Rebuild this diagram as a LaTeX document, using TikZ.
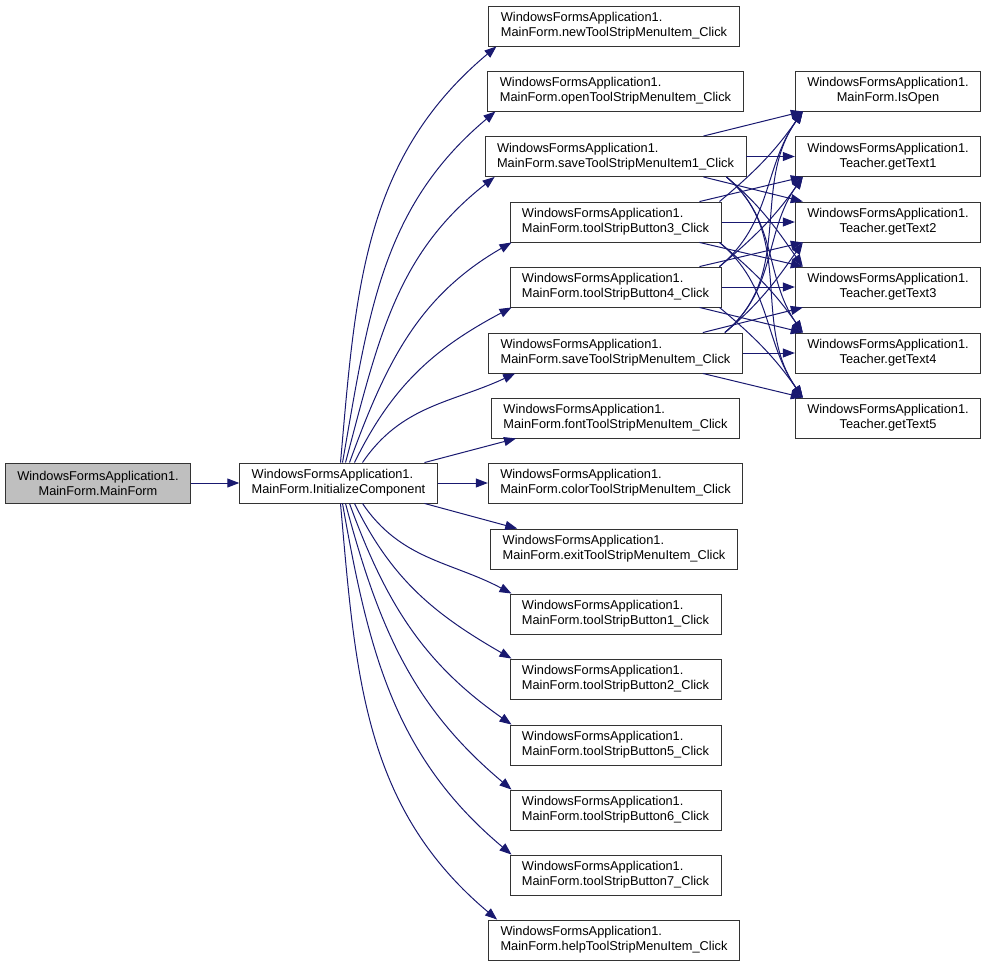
\documentclass[tikz,border=0pt]{standalone}
\usepackage{fontspec}
\setmainfont{Liberation Sans}
\usetikzlibrary{arrows.meta}
\definecolor{edgeblue}{HTML}{191970}
\definecolor{boxgray}{HTML}{BFBFBF}
\tikzset{
  fn/.style={draw=black!80, line width=0.9pt, align=left, minimum height=40pt,
    inner xsep=12pt, inner ysep=4pt, font=\fontsize{12.8}{15}\selectfont},
  fnc/.style={fn, align=center},
  call/.style={edgeblue, line width=1pt, -{Triangle[length=12pt,width=9pt]}}
}
\begin{document}
\begin{tikzpicture}[x=1pt,y=1pt]
\useasboundingbox (0,0) rectangle (987,-967);
% entry point and the method it calls
\node[fnc,fill=boxgray] (mainform) at (98,-483) {WindowsFormsApplication1.\\MainForm.MainForm};
\node[fn] (init) at (338.5,-483) {WindowsFormsApplication1.\\MainForm.InitializeComponent};
% handlers wired up in InitializeComponent
\node[fn] (new)   at (614,-26)    {WindowsFormsApplication1.\\MainForm.newToolStripMenuItem\_Click};
\node[fn] (open)  at (615.5,-91)  {WindowsFormsApplication1.\\MainForm.openToolStripMenuItem\_Click};
\node[fn] (save1) at (615.5,-156.5) {WindowsFormsApplication1.\\MainForm.saveToolStripMenuItem1\_Click};
\node[fn] (tsb3)  at (615.5,-222) {WindowsFormsApplication1.\\MainForm.toolStripButton3\_Click};
\node[fn] (tsb4)  at (615.5,-287) {WindowsFormsApplication1.\\MainForm.toolStripButton4\_Click};
\node[fn] (save)  at (615.5,-353) {WindowsFormsApplication1.\\MainForm.saveToolStripMenuItem\_Click};
\node[fn] (font)  at (615.5,-418) {WindowsFormsApplication1.\\MainForm.fontToolStripMenuItem\_Click};
\node[fn] (color) at (615.5,-483) {WindowsFormsApplication1.\\MainForm.colorToolStripMenuItem\_Click};
\node[fn] (exit)  at (614,-549)   {WindowsFormsApplication1.\\MainForm.exitToolStripMenuItem\_Click};
\node[fn] (tsb1)  at (615.5,-614) {WindowsFormsApplication1.\\MainForm.toolStripButton1\_Click};
\node[fn] (tsb2)  at (615.5,-679) {WindowsFormsApplication1.\\MainForm.toolStripButton2\_Click};
\node[fn] (tsb5)  at (615.5,-745) {WindowsFormsApplication1.\\MainForm.toolStripButton5\_Click};
\node[fn] (tsb6)  at (615.5,-810) {WindowsFormsApplication1.\\MainForm.toolStripButton6\_Click};
\node[fn] (tsb7)  at (615.5,-875) {WindowsFormsApplication1.\\MainForm.toolStripButton7\_Click};
\node[fn] (help)  at (614,-940)   {WindowsFormsApplication1.\\MainForm.helpToolStripMenuItem\_Click};
% helpers called by the save / button handlers
\node[fnc] (isopen) at (888,-91)    {WindowsFormsApplication1.\\MainForm.IsOpen};
\node[fnc] (gt1)    at (888,-156.5) {WindowsFormsApplication1.\\Teacher.getText1};
\node[fnc] (gt2)    at (888,-222)   {WindowsFormsApplication1.\\Teacher.getText2};
\node[fnc] (gt3)    at (888,-287)   {WindowsFormsApplication1.\\Teacher.getText3};
\node[fnc] (gt4)    at (888,-353)   {WindowsFormsApplication1.\\Teacher.getText4};
\node[fnc] (gt5)    at (888,-418)   {WindowsFormsApplication1.\\Teacher.getText5};

\draw[call] (mainform) -- (init);
% fan out of InitializeComponent, upper half
\foreach \dst/\dx/\o/\i/\tx in {new/2/85/220/8, open/4/80/220/8, save1/7/75/218/10,
    tsb3/11/70/210/2, tsb4/16/64/208/2, save/24/56/205/27}
  \draw[call] ([xshift=\dx pt]init.north) to[out=\o,in=\i] ([xshift=\tx pt]\dst.south west);
% lower half
\foreach \dst/\dx/\o/\i/\tx in {help/2/-85/140/9, tsb7/4/-80/140/2, tsb6/7/-75/140/2,
    tsb5/11/-70/145/2, tsb2/16/-64/150/2, tsb1/24/-56/152/2}
  \draw[call] ([xshift=\dx pt]init.south) to[out=\o,in=\i] ([xshift=\tx pt]\dst.north west);
\draw[call] ([xshift=86pt]init.north) -- ([xshift=25pt]font.south west);
\draw[call] (init) -- (color);
\draw[call] ([xshift=86pt]init.south) -- ([xshift=27pt]exit.north west);

% saveToolStripMenuItem1_Click
\draw[call] ([xshift=-43pt]save1.north east) -- ([xshift=8pt]isopen.south west);
\draw[call] (save1) -- (gt1);
\draw[call] ([xshift=-43pt]save1.south east) -- ([xshift=8pt]gt2.north west);
\draw[call] ([xshift=-20pt]save1.south east) to[out=-40,in=125] ([xshift=8pt]gt3.north west);
\draw[call] ([xshift=-20pt]save1.south east) to[out=-40,in=125] ([xshift=8pt]gt4.north west);
\draw[call] ([xshift=-20pt]save1.south east) to[out=-40,in=125] ([xshift=8pt]gt5.north west);
% toolStripButton3_Click
\draw[call] ([xshift=-2pt]tsb3.north east) to[out=40,in=235] ([xshift=8pt]isopen.south west);
\draw[call] ([xshift=-22pt]tsb3.north east) -- ([xshift=8pt]gt1.south west);
\draw[call] (tsb3) -- (gt2);
\draw[call] ([xshift=-22pt]tsb3.south east) -- ([xshift=8pt]gt3.north west);
\draw[call] ([xshift=-2pt]tsb3.south east) to[out=-40,in=125] ([xshift=8pt]gt4.north west);
\draw[call] ([xshift=-2pt]tsb3.south east) to[out=-40,in=125] ([xshift=8pt]gt5.north west);
% toolStripButton4_Click
\draw[call] ([xshift=-2pt]tsb4.north east) to[out=40,in=235] ([xshift=8pt]isopen.south west);
\draw[call] ([xshift=-2pt]tsb4.north east) to[out=40,in=235] ([xshift=8pt]gt1.south west);
\draw[call] ([xshift=-22pt]tsb4.north east) -- ([xshift=8pt]gt2.south west);
\draw[call] (tsb4) -- (gt3);
\draw[call] ([xshift=-22pt]tsb4.south east) -- ([xshift=8pt]gt4.north west);
\draw[call] ([xshift=-2pt]tsb4.south east) to[out=-40,in=125] ([xshift=8pt]gt5.north west);
% saveToolStripMenuItem_Click
\draw[call] ([xshift=-18pt]save.north east) to[out=40,in=235] ([xshift=8pt]isopen.south west);
\draw[call] ([xshift=-18pt]save.north east) to[out=40,in=235] ([xshift=8pt]gt1.south west);
\draw[call] ([xshift=-18pt]save.north east) to[out=40,in=235] ([xshift=8pt]gt2.south west);
\draw[call] ([xshift=-40pt]save.north east) -- ([xshift=8pt]gt3.south west);
\draw[call] (save) -- (gt4);
\draw[call] ([xshift=-40pt]save.south east) -- ([xshift=8pt]gt5.north west);
\end{tikzpicture}
\end{document}
